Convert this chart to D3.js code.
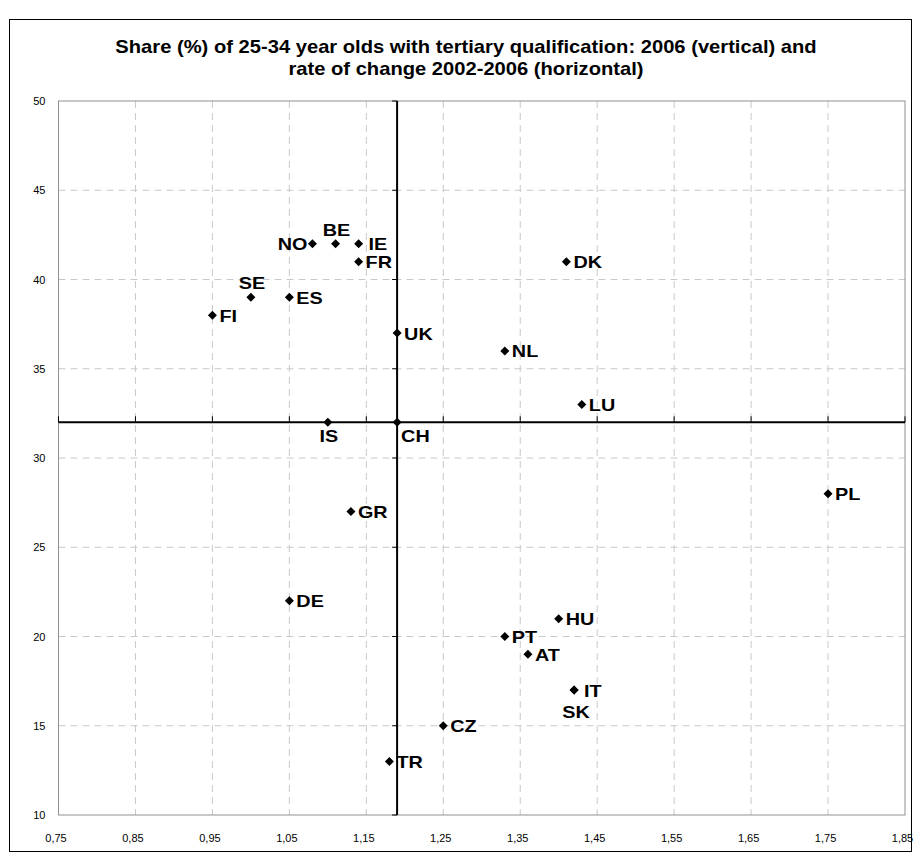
<!DOCTYPE html>
<html><head><meta charset="utf-8">
<script src="https://cdn.jsdelivr.net/npm/d3@7"></script>
<style>body{margin:0;background:#fff;} svg{display:block;}</style>
</head><body>
<script>
const countries = ["FI","SE","ES","NO","BE","IE","FR","UK","DK","NL","LU","IS","CH","GR","PL","DE","HU","PT","AT","IT","SK","CZ","TR"];
const changeRate = [0.95,1.00,1.05,1.08,1.11,1.14,1.14,1.19,1.41,1.33,1.43,1.10,1.19,1.13,1.75,1.05,1.40,1.33,1.36,1.42,1.42,1.25,1.18];
const share2006 = [38,39,39,42,42,42,41,37,41,36,33,32,32,27,28,22,21,20,19,17,17,15,13];
const labelPos = ["right","above","right","left","above","rightFar","right","right","right","right","right","below","belowright","right","right","right","right","right","right","rightFar","below2","right","right"];
const xTicks = [0.75,0.85,0.95,1.05,1.15,1.25,1.35,1.45,1.55,1.65,1.75,1.85];
const yTicks = [10,15,20,25,30,35,40,45,50];
const crossX = 1.19, crossY = 32;
const titleLines = ["Share (%) of 25-34 year olds with tertiary qualification: 2006 (vertical) and","rate of change 2002-2006 (horizontal)"];

const W=921,H=861;
const svg=d3.select("body").append("svg").attr("width",W).attr("height",H);
svg.append("rect").attr("x",9.5).attr("y",19.5).attr("width",902).attr("height",832).attr("fill","#fff").attr("stroke","#000").attr("stroke-width",1);

const x=d3.scaleLinear().domain([0.75,1.85]).range([58.5,905]);
const y=d3.scaleLinear().domain([10,50]).range([815,101]);

const font="Arial, 'Liberation Sans', sans-serif";
svg.append("g").selectAll("text").data(titleLines).join("text")
 .attr("transform",(d,i)=>`translate(466,${53+i*21.5}) scale(1.12,1)`).attr("text-anchor","middle")
 .attr("font-family",font).attr("font-weight","bold").attr("font-size",18).text(d=>d);

// gridlines
const g=svg.append("g");
g.selectAll("line.vx").data(xTicks.slice(1,-1)).join("line")
 .attr("x1",d=>x(d)).attr("x2",d=>x(d)).attr("y1",y(50)).attr("y2",y(10))
 .attr("stroke","#c8c8c8").attr("stroke-dasharray","7,5");
g.selectAll("line.hy").data(yTicks.slice(1,-1)).join("line")
 .attr("x1",x(0.75)).attr("x2",x(1.85)).attr("y1",d=>y(d)).attr("y2",d=>y(d))
 .attr("stroke","#c8c8c8").attr("stroke-dasharray","7,5");
// plot border
svg.append("rect").attr("x",x(0.75)).attr("y",y(50)).attr("width",x(1.85)-x(0.75)).attr("height",y(10)-y(50))
 .attr("fill","none").attr("stroke","#909090").attr("stroke-width",1);

// tick labels via axes
const xAxis=d3.axisBottom(x).tickValues(xTicks).tickSize(0).tickFormat(d=>d3.format(".2f")(d).replace(".",","));
const yAxis=d3.axisLeft(y).tickValues(yTicks).tickSize(0).tickFormat(d3.format("d"));
const xa=svg.append("g").attr("transform",`translate(-3,${y(10)})`).call(xAxis);
xa.select(".domain").remove();
xa.selectAll("text").attr("dy",0).attr("y",27).attr("font-family",font).attr("font-size",11).attr("fill","#000");
const ya=svg.append("g").attr("transform",`translate(${x(0.75)},0)`).call(yAxis);
ya.select(".domain").remove();
ya.selectAll("text").attr("x",-13).attr("font-family",font).attr("font-size",11).attr("fill","#000");

// crossing axes
svg.append("line").attr("x1",x(0.75)).attr("x2",x(1.85)).attr("y1",y(crossY)).attr("y2",y(crossY)).attr("stroke","#000").attr("stroke-width",2);
svg.append("line").attr("x1",x(crossX)).attr("x2",x(crossX)).attr("y1",y(50)).attr("y2",y(10)).attr("stroke","#000").attr("stroke-width",2);
svg.append("g").selectAll("line").data(xTicks).join("line")
 .attr("x1",d=>x(d)).attr("x2",d=>x(d)).attr("y1",y(crossY)).attr("y2",y(crossY)-6).attr("stroke","#000");
svg.append("g").selectAll("line").data(yTicks).join("line")
 .attr("x1",x(crossX)-5).attr("x2",x(crossX)).attr("y1",d=>y(d)).attr("y2",d=>y(d)).attr("stroke","#000");

// points
const data=countries.map((c,i)=>({c,x:changeRate[i],y:share2006[i],p:labelPos[i]}));
const diamond="M0,-4.5L4.5,0L0,4.5L-4.5,0Z";
svg.append("g").selectAll("path").data(data).join("path")
 .attr("transform",d=>`translate(${x(d.x)},${y(d.y)})`).attr("d",diamond).attr("fill","#000");
const off={right:[7,6.5,"start"],rightFar:[10,6.5,"start"],left:[-5,6.5,"end"],above:[1,-8,"middle"],below:[1,20,"middle"],below2:[2,27.5,"middle"],belowright:[4,19.5,"start"]};
svg.append("g").selectAll("text").data(data).join("text")
 .attr("font-family",font).attr("font-weight","bold").attr("font-size",16.5)
 .attr("transform",d=>{const o=off[d.p];return `translate(${x(d.x)+o[0]},${y(d.y)+o[1]}) scale(1.2,1)`;})
 .attr("text-anchor",d=>off[d.p][2])
 .text(d=>d.c);
</script>
</body></html>
